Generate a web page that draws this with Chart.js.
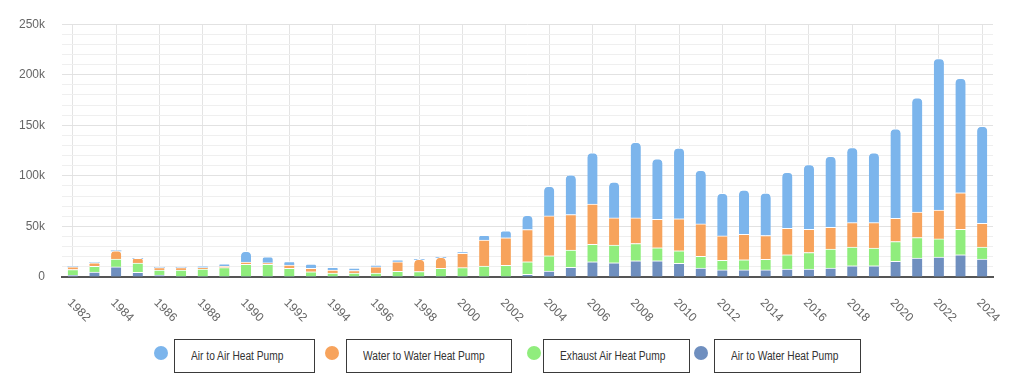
<!DOCTYPE html>
<html>
<head>
<meta charset="utf-8">
<script src="https://cdn.jsdelivr.net/npm/chart.js@4"></script>
<style>
  html, body { margin: 0; padding: 0; background: #ffffff; }
  #wrap { position: relative; width: 1024px; height: 383px; overflow: hidden; }
  #c { position: absolute; left: 0; top: 0; }
  .dot { position: absolute; width: 14px; height: 14px; border-radius: 50%; }
  .box { position: absolute; box-sizing: border-box; border: 1px solid #3a3a3a; height: 34px;
         font-family: "Liberation Sans", Arial, sans-serif;
         font-size: 12px; color: #333; line-height: 32px; white-space: nowrap; }
  .box span { display: inline-block; transform: scaleX(0.85); transform-origin: 0 50%; }
</style>
</head>
<body>
<div id="wrap">
  <canvas id="c" width="1024" height="330"></canvas>
  <div id="legend"></div>
</div>
<script>
// ---- Data (thousands of units) ----
const years = [1982,1983,1984,1985,1986,1987,1988,1989,1990,1991,1992,1993,1994,1995,1996,1997,1998,1999,2000,2001,2002,2003,2004,2005,2006,2007,2008,2009,2010,2011,2012,2013,2014,2015,2016,2017,2018,2019,2020,2021,2022,2023,2024];

const airToWater   = [1.6,4.9,10,4.6,2,0,0,0,0,0,0,0,0,0,0,0,0,0,0,0,0,2.6,5.9,9.5,15.1,14.1,16.1,16.1,13.6,8.8,7,7,7,7.9,7.9,8.9,11.1,11.1,15.4,18.7,19.7,22,17.7];
const exhaustAir   = [5.8,5.6,7.6,9.2,4.9,6.9,7.9,9.2,12.5,12.5,8.5,5.2,3.8,4,4,5.6,5.4,8.5,9.2,10.8,11.5,12.5,15.1,17.1,17.1,17.4,17,12.8,12.4,11.7,9.4,10.1,10.4,14.1,16.3,18.7,18.4,17.4,19.6,20.3,18,25.2,11.8];
const waterToWater = [2.6,3.6,8.2,4.6,2.3,2.3,1.3,1.3,2.3,1.6,3.2,3.3,3,2.4,6,9.5,12,10.9,14.1,25.6,27.2,31.8,39.4,35.1,40,26.9,25.3,28.2,31.5,32,24.2,25.2,23.6,26.2,23,21.6,24.2,25.2,23,25.3,28.5,36.1,23.6];
const airToAir     = [0,0,0,0,0,0,1.6,2.6,10.6,5.9,3.5,4.3,2.7,2.4,1.8,1.6,0,0,1.6,4.9,6.9,14.1,29.2,39.3,50.5,35.4,74.8,59.7,70.1,53,42.1,43.6,42,55.4,64,70.2,74.3,69,88.6,112.9,149.9,113.2,95.8];

const seriesNames  = ["Air to Air Heat Pump", "Water to Water Heat Pump", "Exhaust Air Heat Pump", "Air to Water Heat Pump"];
const seriesColors = ["#7cb5ec", "#f7a35c", "#90ed7d", "#6f8fbf"];
const yTickMax = 250000;
const yTickStep = 10000;

const k = a => a.map(v => v * 1000);

// ---- Legend (HTML) ----
const legendLayout = [
  {dot: 161, left: 174, width: 141},
  {dot: 332, left: 346, width: 166},
  {dot: 534, left: 543, width: 147},
  {dot: 701, left: 714, width: 147}
];
const legendEl = document.getElementById('legend');
seriesNames.forEach((name, i) => {
  const L = legendLayout[i];
  const d = document.createElement('div');
  d.className = 'dot';
  d.style.left = (L.dot - 7) + 'px';
  d.style.top = (353 - 7) + 'px';
  d.style.background = seriesColors[i];
  legendEl.appendChild(d);
  const b = document.createElement('div');
  b.className = 'box';
  b.style.left = L.left + 'px';
  b.style.top = '339px';
  b.style.width = L.width + 'px';
  b.style.paddingLeft = '16px';
  const s = document.createElement('span');
  s.textContent = name;
  b.appendChild(s);
  legendEl.appendChild(b);
});

// ---- Rotated x labels (drawn at the category scale's pixels) ----
const xLabelPlugin = {
  id: 'xLabels',
  afterDraw(chart) {
    const xs = chart.scales.x;
    const ctx = chart.ctx;
    ctx.save();
    ctx.font = '12px "Liberation Sans", Arial, sans-serif';
    ctx.fillStyle = '#666666';
    ctx.textAlign = 'left';
    ctx.textBaseline = 'middle';
    years.forEach((y, i) => {
      if (i % 2 !== 0) return;
      const x = xs.getPixelForValue(i);
      ctx.save();
      ctx.translate(x - 3.5, xs.top + 24);
      ctx.rotate(Math.PI / 4);
      ctx.fillText(String(y), 0, 0);
      ctx.restore();
    });
    ctx.restore();
  }
};

const common = {
  borderColor: '#ffffff',
  borderWidth: {top: 1, left: 0, right: 0, bottom: 0},
  borderRadius: 5,
  borderSkipped: 'start',
  barThickness: 10
};

new Chart(document.getElementById('c'), {
  type: 'bar',
  data: {
    labels: years,
    datasets: [
      Object.assign({label: seriesNames[3], data: k(airToWater),   backgroundColor: seriesColors[3]}, common),
      Object.assign({label: seriesNames[2], data: k(exhaustAir),   backgroundColor: seriesColors[2]}, common),
      Object.assign({label: seriesNames[1], data: k(waterToWater), backgroundColor: seriesColors[1]}, common),
      Object.assign({label: seriesNames[0], data: k(airToAir),     backgroundColor: seriesColors[0]}, common)
    ]
  },
  options: {
    responsive: false,
    animation: false,
    layout: { padding: { left: 0, right: 31, top: 23, bottom: 0 } },
    plugins: { legend: { display: false }, tooltip: { enabled: false } },
    scales: {
      x: {
        stacked: true,
        offset: true,
        ticks: { display: false },
        grid: {
          drawTicks: false,
          offset: false,
          color: ctx => (ctx.index % 2 === 0 ? '#e4e4e4' : 'rgba(0,0,0,0)'),
          lineWidth: 1
        },
        border: { display: true, color: '#555555', width: 2 },
        afterFit: s => { s.height = 53; }
      },
      y: {
        stacked: true,
        min: 0,
        max: yTickMax,
        grid: {
          drawTicks: false,
          color: ctx => (ctx.tick && ctx.tick.value % 50000 === 0 ? '#e2e2e2' : '#efefef'),
          lineWidth: 1
        },
        border: { display: false },
        ticks: {
          stepSize: yTickStep,
          maxTicksLimit: 30,
          autoSkip: false,
          padding: 17,
          color: '#666666',
          font: { family: '"Liberation Sans", Arial, sans-serif', size: 12 },
          callback: v => (v % 50000 === 0 ? (v === 0 ? '0' : (v / 1000) + 'k') : '')
        },
        afterFit: s => { s.width = 62; }
      }
    }
  },
  plugins: [xLabelPlugin]
});
</script>
</body>
</html>
